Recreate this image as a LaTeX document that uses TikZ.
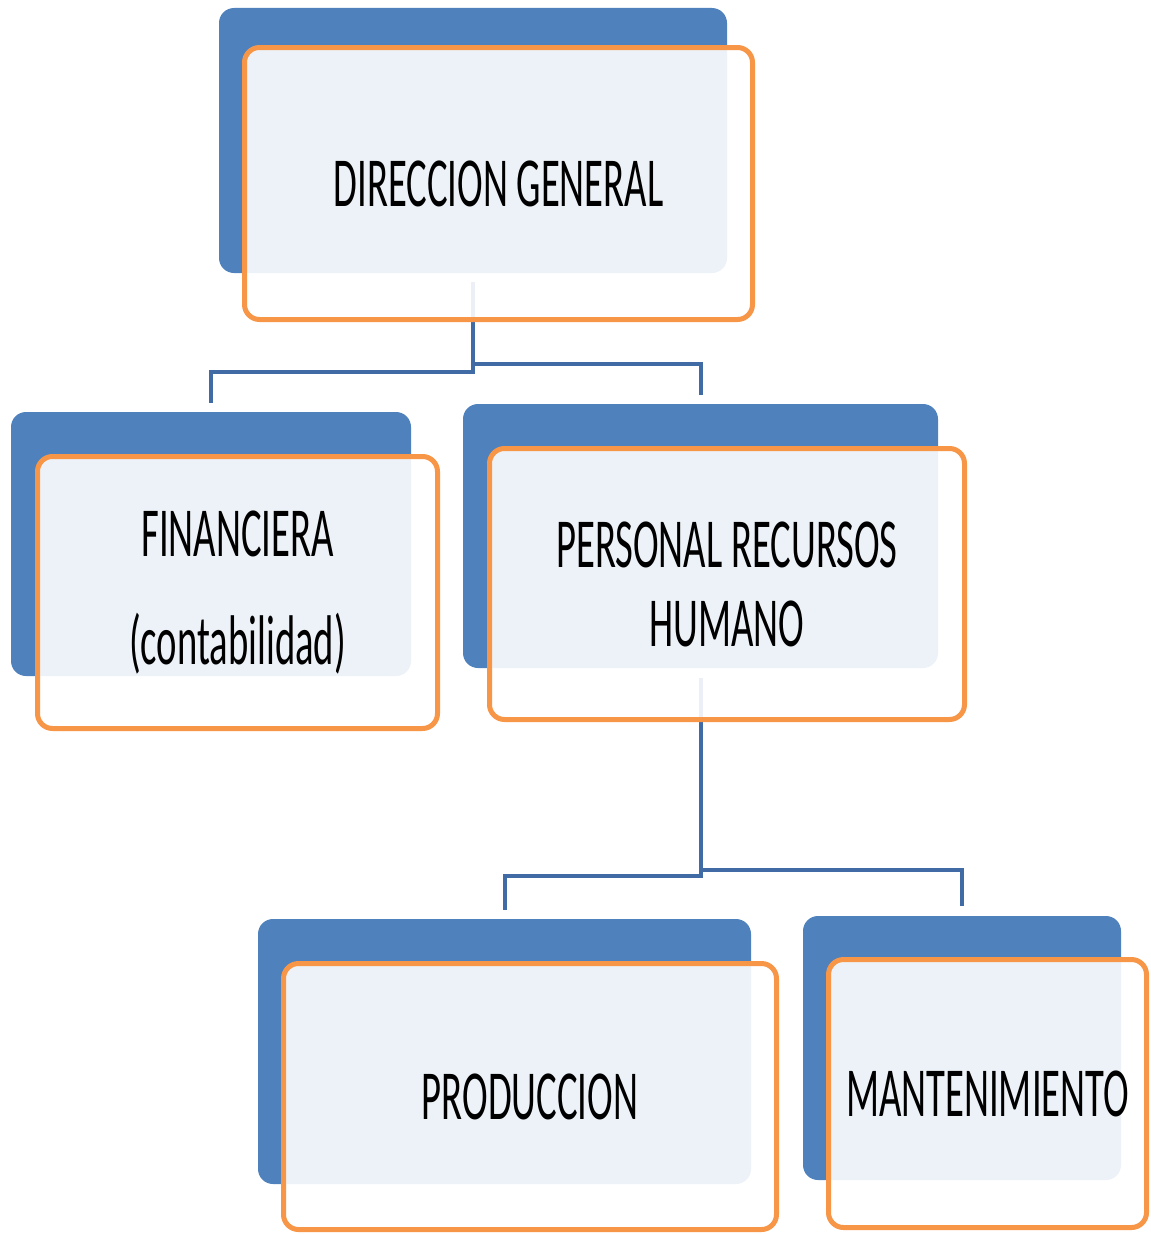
\documentclass[tikz,border=0pt]{standalone}
\usepackage{fontspec}
\usepackage{tikz}
\usetikzlibrary{positioning}
\newfontfamily\boxfont[FakeStretch=0.55]{Carlito}
\definecolor{unitblue}{RGB}{79,129,189}
\definecolor{unitorange}{RGB}{247,150,70}
\definecolor{linkblue}{RGB}{65,107,165}

\begin{document}
\begin{tikzpicture}[
  x=1cm, y=1cm,
  back/.style={fill=unitblue, rounded corners=0.3cm, inner sep=0pt},
  front/.style={draw=unitorange, line width=0.1cm, fill=white, fill opacity=0.9,
    text opacity=1, rounded corners=0.3cm, align=center, inner sep=0pt,
    font=\boxfont\fontsize{40}{45}\selectfont},
  link/.style={draw=linkblue, line width=0.08cm}
]
  \useasboundingbox (0,0) rectangle (23,-24.68);

  % Back cards (blue) — fixed positions, top-left origin
  \node[back, minimum width=10.16cm, minimum height=5.30cm] (dgb)   at ( 9.46, -2.81) {};
  \node[back, minimum width=8.00cm,  minimum height=5.28cm] (finb)  at ( 4.22,-10.88) {};
  \node[back, minimum width=9.50cm,  minimum height=5.28cm] (perb)  at (14.01,-10.72) {};
  \node[back, minimum width=9.86cm,  minimum height=5.30cm] (prodb) at (10.09,-21.03) {};
  \node[back, minimum width=6.36cm,  minimum height=5.28cm] (mantb) at (19.24,-20.96) {};

  % Connectors (drawn before the front cards, so they fade under them)
  \draw[link] ([yshift=-0.18cm]dgb.south) -- ++(0,-1.8) -| ([yshift=0.18cm]finb.north);
  \draw[link] ([yshift=-1.82cm]dgb.south) -| ([yshift=0.18cm]perb.north);
  \draw[link] ([yshift=-0.2cm]perb.south) -- ++(0,-3.96) -| ([yshift=0.18cm]prodb.north);
  \draw[link] ([yshift=-4.04cm]perb.south) -| ([yshift=0.2cm]mantb.north);

  % Front cards (orange outline)
  \node[front, minimum width=10.16cm, minimum height=5.44cm] (dg)   at ( 9.97, -3.67) {DIRECCION GENERAL};
  \node[front, minimum width=8.00cm,  minimum height=5.44cm] (fin)  at ( 4.75,-11.85) {FINANCIERA\\[16pt](contabilidad)};
  \node[front, minimum width=9.50cm,  minimum height=5.42cm] (per)  at (14.54,-11.68) {PERSONAL RECURSOS\\HUMANO};
  \node[front, minimum width=9.86cm,  minimum height=5.32cm] (prod) at (10.60,-21.93) {PRODUCCION};
  \node[front, minimum width=6.36cm,  minimum height=5.36cm] (mant) at (19.75,-21.87) {MANTENIMIENTO};

\end{tikzpicture}
\end{document}
